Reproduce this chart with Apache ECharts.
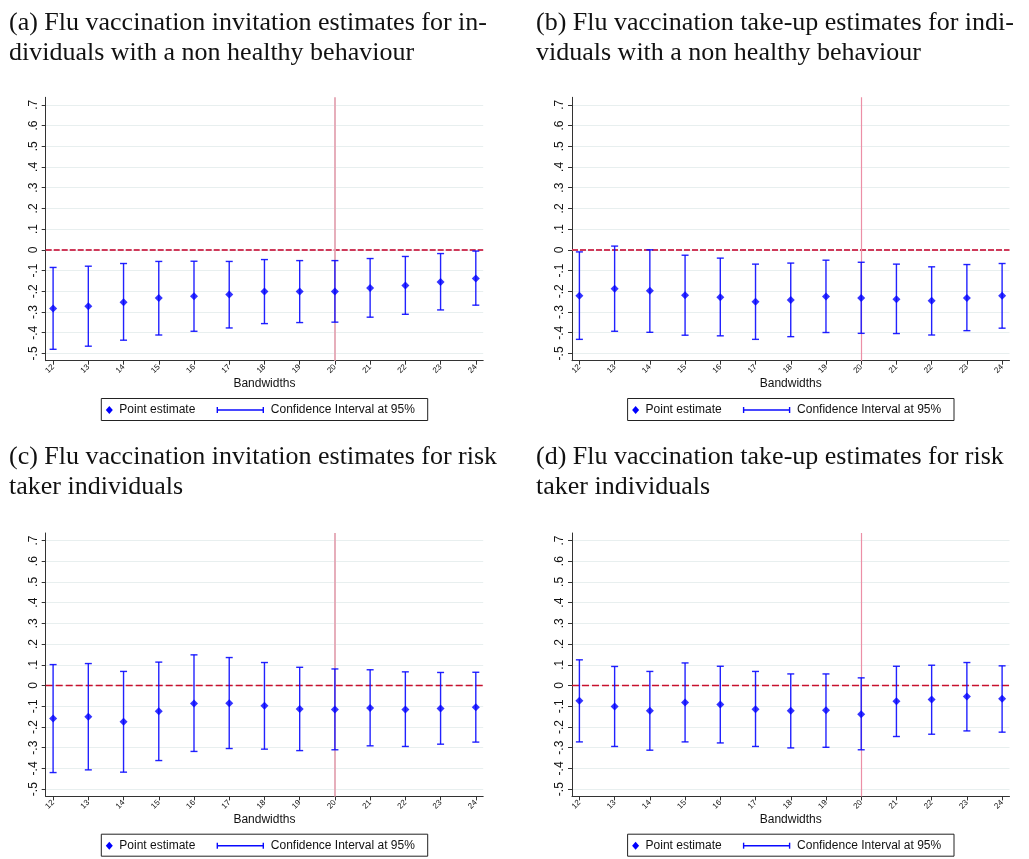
<!DOCTYPE html>
<html>
<head>
<meta charset="utf-8">
<script src="https://cdn.jsdelivr.net/npm/echarts@6/dist/echarts.min.js"></script>
<style>html,body{margin:0;padding:0;background:#fff}#c{width:1029px;height:859px}</style>
</head>
<body>
<div id="c"></div>
<script>
// ---- Data ----
const bandwidths = [12, 13, 14, 15, 16, 17, 18, 19, 20, 21, 22, 23, 24];
const yTicks = [-0.5, -0.4, -0.3, -0.2, -0.1, 0, 0.1, 0.2, 0.3, 0.4, 0.5, 0.6, 0.7];

const titles = [
  ["(a) Flu vaccination invitation estimates for in-", "dividuals with a non healthy behaviour"],
  ["(b) Flu vaccination take-up estimates for indi-", "viduals with a non healthy behaviour"],
  ["(c) Flu vaccination invitation estimates for risk", "taker individuals"],
  ["(d) Flu vaccination take-up estimates for risk", "taker individuals"]
];

// (a) invitation, non healthy behaviour
const aPoint = [-0.283, -0.272, -0.253, -0.233, -0.224, -0.216, -0.201, -0.201, -0.201, -0.184, -0.172, -0.155, -0.138];
const aLower = [-0.480, -0.465, -0.436, -0.411, -0.393, -0.377, -0.356, -0.351, -0.349, -0.325, -0.311, -0.290, -0.267];
const aUpper = [-0.085, -0.079, -0.066, -0.056, -0.055, -0.056, -0.047, -0.052, -0.052, -0.042, -0.032, -0.018, -0.006];

// (b) take-up, non healthy behaviour
const bPoint = [-0.221, -0.188, -0.198, -0.219, -0.229, -0.251, -0.242, -0.225, -0.232, -0.238, -0.246, -0.232, -0.222];
const bLower = [-0.432, -0.393, -0.398, -0.412, -0.415, -0.432, -0.419, -0.399, -0.403, -0.404, -0.411, -0.390, -0.378];
const bUpper = [-0.010, 0.018, 0.000, -0.026, -0.040, -0.069, -0.064, -0.050, -0.060, -0.069, -0.082, -0.071, -0.066];

// (c) invitation, risk taker
const cPoint = [-0.159, -0.151, -0.175, -0.124, -0.087, -0.085, -0.098, -0.113, -0.116, -0.108, -0.116, -0.111, -0.105];
const cLower = [-0.420, -0.407, -0.418, -0.362, -0.318, -0.304, -0.307, -0.314, -0.310, -0.291, -0.294, -0.283, -0.273];
const cUpper = [0.101, 0.106, 0.068, 0.113, 0.148, 0.135, 0.111, 0.088, 0.080, 0.076, 0.066, 0.063, 0.064];

// (d) take-up, risk taker
const dPoint = [-0.074, -0.101, -0.122, -0.082, -0.092, -0.114, -0.122, -0.119, -0.138, -0.076, -0.067, -0.053, -0.064];
const dLower = [-0.272, -0.294, -0.312, -0.272, -0.277, -0.294, -0.301, -0.298, -0.310, -0.246, -0.235, -0.219, -0.225];
const dUpper = [0.124, 0.092, 0.068, 0.109, 0.093, 0.068, 0.056, 0.056, 0.037, 0.093, 0.098, 0.111, 0.095];

const cutoff = 20;

// ---- Layout ----
const panels = [
  {p: aPoint, lo: aLower, hi: aUpper, left: 45.7, top: 97.3, vColor: '#e4a6b4', vWidth: 1.8, zColor: '#cf3a5a', zWidth: 2, zDash: [6, 2]},
  {p: bPoint, lo: bLower, hi: bUpper, left: 572, top: 97.3, vColor: '#ec8fa6', vWidth: 1.2, zColor: '#cf3a5a', zWidth: 2, zDash: [6, 2]},
  {p: cPoint, lo: cLower, hi: cUpper, left: 45.7, top: 533, vColor: '#e4a6b4', vWidth: 1.8, zColor: '#c8102e', zWidth: 1.3, zDash: [7, 3]},
  {p: dPoint, lo: dLower, hi: dUpper, left: 572, top: 533, vColor: '#ec8fa6', vWidth: 1.2, zColor: '#c8102e', zWidth: 1.3, zDash: [7, 3]}
];
const W = 437.5, H = 263.4;
const sans = "'Liberation Sans', Arial, sans-serif";
const serif = "'Liberation Serif', 'Times New Roman', serif";

const grids = [], xAxes = [], yAxes = [], series = [], graphics = [];
const fmtY = v => {
  const r = Math.round(v * 10) / 10;
  if (r === 0) return '0';
  return String(r).replace('0.', '.');
};

panels.forEach((pn, i) => {
  grids.push({left: pn.left, top: pn.top, width: W, height: H, containLabel: false});
  xAxes.push({
    type: 'value', gridIndex: i, min: 11.79, max: 24.21,
    name: 'Bandwidths', nameLocation: 'middle', nameGap: 17,
    nameTextStyle: {fontFamily: sans, fontSize: 12, color: '#111'},
    axisLine: {show: true, onZero: false, lineStyle: {color: '#333', width: 1}},
    axisTick: {show: true, length: 4, customValues: bandwidths, lineStyle: {color: '#333'}},
    axisLabel: {show: true, customValues: bandwidths, rotate: 45, fontSize: 8, margin: 5, color: '#111', fontFamily: sans},
    splitLine: {show: false}
  });
  yAxes.push({
    type: 'value', gridIndex: i, min: -0.535, max: 0.736,
    axisLine: {show: true, onZero: false, lineStyle: {color: '#333', width: 1}},
    axisTick: {show: true, length: 4, customValues: yTicks, lineStyle: {color: '#333'}},
    axisLabel: {show: true, customValues: yTicks, rotate: 90, fontSize: 12, margin: 6, color: '#111', fontFamily: sans, formatter: fmtY},
    splitLine: {show: true, lineStyle: {color: '#e8efef', width: 1}}
  });

  // reference lines (behind the marks)
  series.push({
    type: 'scatter', name: 'ref', xAxisIndex: i, yAxisIndex: i, z: 2, data: [],
    markLine: {
      silent: true, symbol: 'none', label: {show: false}, animation: false,
      data: [
        {yAxis: 0, lineStyle: {color: pn.zColor, width: pn.zWidth, type: pn.zDash}},
        {xAxis: cutoff, lineStyle: {color: pn.vColor, width: pn.vWidth, type: 'solid'}}
      ]
    }
  });
  series.push({
    type: 'custom', name: 'Confidence Interval at 95%', xAxisIndex: i, yAxisIndex: i, z: 5,
    data: bandwidths.map((b, j) => [b, pn.lo[j], pn.hi[j]]),
    renderItem: (params, api) => {
      const x = api.value(0);
      const lo = api.coord([x, api.value(1)]);
      const hi = api.coord([x, api.value(2)]);
      const hw = 3.5;
      const st = {stroke: '#0a0aff', lineWidth: 1.4, opacity: 0.9};
      return {type: 'group', children: [
        {type: 'line', shape: {x1: lo[0], y1: lo[1], x2: hi[0], y2: hi[1]}, style: st},
        {type: 'line', shape: {x1: hi[0] - hw, y1: hi[1], x2: hi[0] + hw, y2: hi[1]}, style: st},
        {type: 'line', shape: {x1: lo[0] - hw, y1: lo[1], x2: lo[0] + hw, y2: lo[1]}, style: st}
      ]};
    }
  });
  series.push({
    type: 'scatter', name: 'Point estimate', xAxisIndex: i, yAxisIndex: i, z: 6,
    symbol: 'diamond', symbolSize: [8, 8],
    itemStyle: {color: '#0000ff'},
    data: bandwidths.map((b, j) => [b, pn.p[j]])
  });

  // titles
  const tx = pn.left < 100 ? 9 : 536;
  const ty = pn.top < 200 ? 10 : 444;
  graphics.push({type: 'text', left: tx, top: ty, style: {text: titles[i][0], font: `26px ${serif}`, fill: '#111'}});
  graphics.push({type: 'text', left: tx, top: ty + 30, style: {text: titles[i][1], font: `26px ${serif}`, fill: '#111'}});

  // legend box
  const lx = pn.left + 55.6, ly = pn.top + 301.2;
  graphics.push({type: 'rect', shape: {x: lx, y: ly, width: 326.4, height: 22}, style: {fill: '#fff', stroke: '#222', lineWidth: 1}});
  const cy = ly + 11.5;
  graphics.push({type: 'polygon', shape: {points: [[lx + 8, cy - 4], [lx + 11.5, cy], [lx + 8, cy + 4], [lx + 4.5, cy]]}, style: {fill: '#0000ff'}});
  graphics.push({type: 'text', x: lx + 18, y: cy, style: {text: 'Point estimate', font: `12px ${sans}`, fill: '#111', verticalAlign: 'middle'}});
  const ls = {stroke: '#0a0aff', lineWidth: 1.4};
  graphics.push({type: 'line', shape: {x1: lx + 116, y1: cy, x2: lx + 162, y2: cy}, style: ls});
  graphics.push({type: 'line', shape: {x1: lx + 116, y1: cy - 3, x2: lx + 116, y2: cy + 3}, style: ls});
  graphics.push({type: 'line', shape: {x1: lx + 162, y1: cy - 3, x2: lx + 162, y2: cy + 3}, style: ls});
  graphics.push({type: 'text', x: lx + 169.5, y: cy, style: {text: 'Confidence Interval at 95%', font: `12px ${sans}`, fill: '#111', verticalAlign: 'middle'}});
});

const chart = echarts.init(document.getElementById('c'), null, {renderer: 'canvas'});
chart.setOption({
  animation: false,
  backgroundColor: '#fff',
  grid: grids, xAxis: xAxes, yAxis: yAxes, series: series,
  graphic: graphics
});
</script>
</body>
</html>
